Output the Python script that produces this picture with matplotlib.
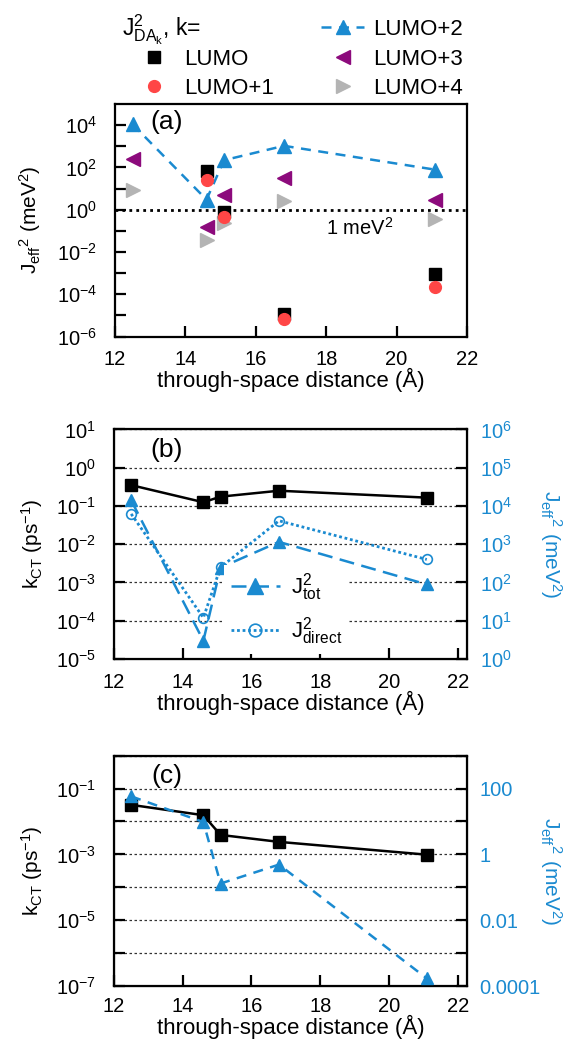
import numpy as np
import matplotlib
matplotlib.use("Agg")
import matplotlib.pyplot as plt
from matplotlib.lines import Line2D
from matplotlib.ticker import FixedLocator, FuncFormatter, NullLocator, NullFormatter

plt.rcParams['font.family'] = ['Liberation Sans', 'DejaVu Sans']
plt.rcParams['mathtext.fontset'] = 'custom'
plt.rcParams['mathtext.rm'] = 'Liberation Sans'
plt.rcParams['mathtext.it'] = 'Liberation Sans'
plt.rcParams['mathtext.bf'] = 'Liberation Sans:bold'

# distances (Angstrom)
dist = [12.5, 14.6, 15.1, 16.8, 21.1]

# panel (a): J_eff^2 (meV^2) per acceptor orbital
j_lumo_x = [14.6, 15.1, 16.8, 21.1]
j_lumo = [70, 0.75, 1.2e-5, 9e-4]
j_lumo1 = [25, 0.45, 6.5e-6, 2.3e-4]
j_lumo2 = [1.1e4, 3.0, 220, 1050, 78]
j_lumo3 = [250, 0.16, 5.0, 30, 3.0]
j_lumo4 = [8.5, 0.036, 0.24, 2.6, 0.36]

# panel (b)
kct_b = [0.35, 0.125, 0.175, 0.25, 0.165]
j2_tot_b = [1.4e4, 3.0, 245, 1150, 89]
j2_direct_b = [6200, 12, 250, 4100, 400]

# panel (c)
kct_c = [0.032, 0.0155, 0.0039, 0.0024, 0.00098]
j2_c = [58, 9.6, 0.13, 0.49, 1.7e-4]

blue = '#1a8ad0'
red = '#ff4646'
purple = '#8c0a7c'
grey = '#b4b4b4'
FS = 14.5
LFS = 16

fig = plt.figure(figsize=(5.74, 10.39), dpi=100)
ax_a = fig.add_axes([0.2003, 0.6761, 0.6133, 0.2238])
ax_b = fig.add_axes([0.1986, 0.3657, 0.6150, 0.2210])
ax_c = fig.add_axes([0.1986, 0.0510, 0.6150, 0.2217])


def pow_fmt(v, pos):
    return r'$10^{%d}$' % int(round(np.log10(v)))


def style(ax, xpad=-1, tpad=10):
    for s in ax.spines.values():
        s.set_linewidth(1.6)
    ax.tick_params(which='both', direction='in', labelsize=FS, width=1.6)
    ax.tick_params(which='major', length=8)
    ax.tick_params(which='minor', length=8)
    ax.tick_params(axis='x', pad=tpad)
    ax.tick_params(axis='y', pad=13)
    ax.set_xticks([12, 14, 16, 18, 20, 22])
    ax.xaxis.set_minor_locator(NullLocator())
    ax.yaxis.set_minor_formatter(NullFormatter())
    ax.set_xlabel(u'through-space distance (\u00c5)', fontsize=16, labelpad=xpad)


# ---------- (a)
ax = ax_a
ax.set_yscale('log')
ax.set_xlim(12, 22)
ax.set_ylim(1e-6, 1e5)
ax.axhline(1, color='k', lw=2, ls=(0, (1, 1.5)), zorder=1)
ax.plot(dist, j_lumo2, color=blue, ls=(0, (4, 3)), lw=1.8, marker='^', ms=10, zorder=3)
ax.plot(dist, j_lumo3, ls='none', marker='<', color=purple, ms=10, zorder=3)
ax.plot(dist, j_lumo4, ls='none', marker='>', color=grey, ms=10, zorder=3)
ax.plot(j_lumo_x, j_lumo, ls='none', marker='s', color='k', ms=8, zorder=4)
ax.plot(j_lumo_x, j_lumo1, ls='none', marker='o', color=red, ms=8.5, zorder=5)
style(ax)
ax.yaxis.set_major_locator(FixedLocator([1e-6, 1e-4, 1e-2, 1e0, 1e2, 1e4]))
ax.yaxis.set_minor_locator(FixedLocator([1e-5, 1e-3, 1e-1, 1e1, 1e3]))
ax.yaxis.set_major_formatter(FuncFormatter(pow_fmt))
ax.yaxis.set_minor_formatter(NullFormatter())
ax.set_ylabel(r'J$_{eff}$$^{2}$ (meV$^{2}$)', fontsize=15)
ax.yaxis.set_label_coords(-0.205, 0.5)
ax.text(0.148, 0.922, '(a)', transform=ax.transAxes, fontsize=19, ha='center', va='center')
ax.text(18.0, 0.14, r'1 meV$^{2}$', fontsize=FS, va='center')

handles = [Line2D([], [], ls='none'),
           Line2D([], [], ls='none', marker='s', color='k', ms=8),
           Line2D([], [], ls='none', marker='o', color=red, ms=8.5),
           Line2D([], [], color=blue, ls=(0, (4, 3)), lw=1.8, marker='^', ms=10),
           Line2D([], [], ls='none', marker='<', color=purple, ms=10),
           Line2D([], [], ls='none', marker='>', color=grey, ms=10)]
labels = ['', 'LUMO', 'LUMO+1', 'LUMO+2', 'LUMO+3', 'LUMO+4']
fig.legend(handles, labels, ncol=2, frameon=False, fontsize=LFS,
           loc='upper left', bbox_to_anchor=(121 / 574, 1 - 8 / 1039),
           borderpad=0, handlelength=1.95, handletextpad=0.4,
           columnspacing=2.1, labelspacing=0.38)
fig.text(122 / 574, 1 - 36 / 1039, r'J$^{2}_{DA_{k}}$, k=', fontsize=16.5, va='baseline')

# ---------- (b)
ax = ax_b
ax.set_yscale('log')
ax.set_xlim(12, 22.27)
ax.set_ylim(1e-5, 1e1)
ax.plot(dist, kct_b, color='k', lw=1.8, marker='s', ms=8, zorder=3)
style(ax)
ax.yaxis.set_major_locator(FixedLocator([10.0 ** e for e in range(-5, 2)]))
ax.yaxis.set_minor_locator(NullLocator())
ax.yaxis.set_major_formatter(FuncFormatter(pow_fmt))
ax.yaxis.grid(True, color='#333333', ls=(0, (2, 2)), lw=0.9)
ax.set_ylabel(r'k$_{CT}$ (ps$^{-1}$)', fontsize=15)
ax.yaxis.set_label_coords(-0.195, 0.5)
ax.text(0.15, 0.91, '(b)', transform=ax.transAxes, fontsize=19, ha='center', va='center')

axr = ax.twinx()
axr.set_yscale('log')
axr.set_ylim(1e0, 1e6)
l_tot, = axr.plot(dist, j2_tot_b, color=blue, ls=(0, (6, 3)), lw=1.8, marker='^', ms=9)
l_dir, = axr.plot(dist, j2_direct_b, color=blue, ls=(0, (1, 1)), lw=2, marker='o', ms=7,
                  mfc='none', mew=1.2)
axr.yaxis.set_major_locator(FixedLocator([10.0 ** e for e in range(0, 7)]))
axr.yaxis.set_minor_locator(NullLocator())
axr.yaxis.set_major_formatter(FuncFormatter(pow_fmt))
axr.tick_params(which='both', direction='in', length=8, width=1.6, labelsize=FS,
                labelcolor=blue, pad=9)
axr.set_ylabel(r'J$_{eff}$$^{2}$ (meV$^{2}$)', fontsize=15, color=blue,
               rotation=-90, va='bottom')
axr.yaxis.set_label_coords(1.2, 0.5)
leg = axr.legend([l_tot, l_dir], [r'J$^{2}_{tot}$', r'J$^{2}_{direct}$'], fontsize=LFS,
                 loc='upper left', bbox_to_anchor=(0.28, 0.46), frameon=True,
                 framealpha=1, edgecolor='none', facecolor='white', fancybox=False,
                 borderpad=0.3, handlelength=2.2, handletextpad=0.5,
                 labelspacing=0.55, markerscale=1.3)

# ---------- (c)
ax = ax_c
ax.set_yscale('log')
ax.set_xlim(12, 22.27)
ax.set_ylim(1e-7, 1e0)
ax.plot(dist, kct_c, color='k', lw=1.8, marker='s', ms=8, zorder=3)
style(ax, xpad=-1, tpad=8)
ax.yaxis.set_major_locator(FixedLocator([10.0 ** e for e in range(-7, 1)]))
ax.yaxis.set_minor_locator(NullLocator())
ax.yaxis.set_major_formatter(FuncFormatter(
    lambda v, p: pow_fmt(v, p) if int(round(np.log10(v))) in (-1, -3, -5, -7) else ''))
ax.yaxis.grid(True, color='#333333', ls=(0, (2, 2)), lw=0.9)
ax.set_ylabel(r'k$_{CT}$ (ps$^{-1}$)', fontsize=15)
ax.yaxis.set_label_coords(-0.195, 0.5)
ax.text(0.15, 0.91, '(c)', transform=ax.transAxes, fontsize=19, ha='center', va='center')

axr = ax.twinx()
axr.set_yscale('log')
axr.set_ylim(1e-4, 1e3)
axr.plot(dist, j2_c, color=blue, ls=(0, (4, 3)), lw=1.8, marker='^', ms=9)
axr.yaxis.set_major_locator(FixedLocator([10.0 ** e for e in range(-4, 4)]))
axr.yaxis.set_minor_locator(NullLocator())
rlab = {2: '100', 0: '1', -2: '0.01', -4: '0.0001'}
axr.yaxis.set_major_formatter(FuncFormatter(
    lambda v, p: rlab.get(int(round(np.log10(v))), '')))
axr.tick_params(which='both', direction='in', length=8, width=1.6, labelsize=FS,
                labelcolor=blue, pad=9)
axr.set_ylabel(r'J$_{eff}$$^{2}$ (meV$^{2}$)', fontsize=15, color=blue,
               rotation=-90, va='bottom')
axr.yaxis.set_label_coords(1.2, 0.5)

fig.savefig('out.png', dpi=100)
